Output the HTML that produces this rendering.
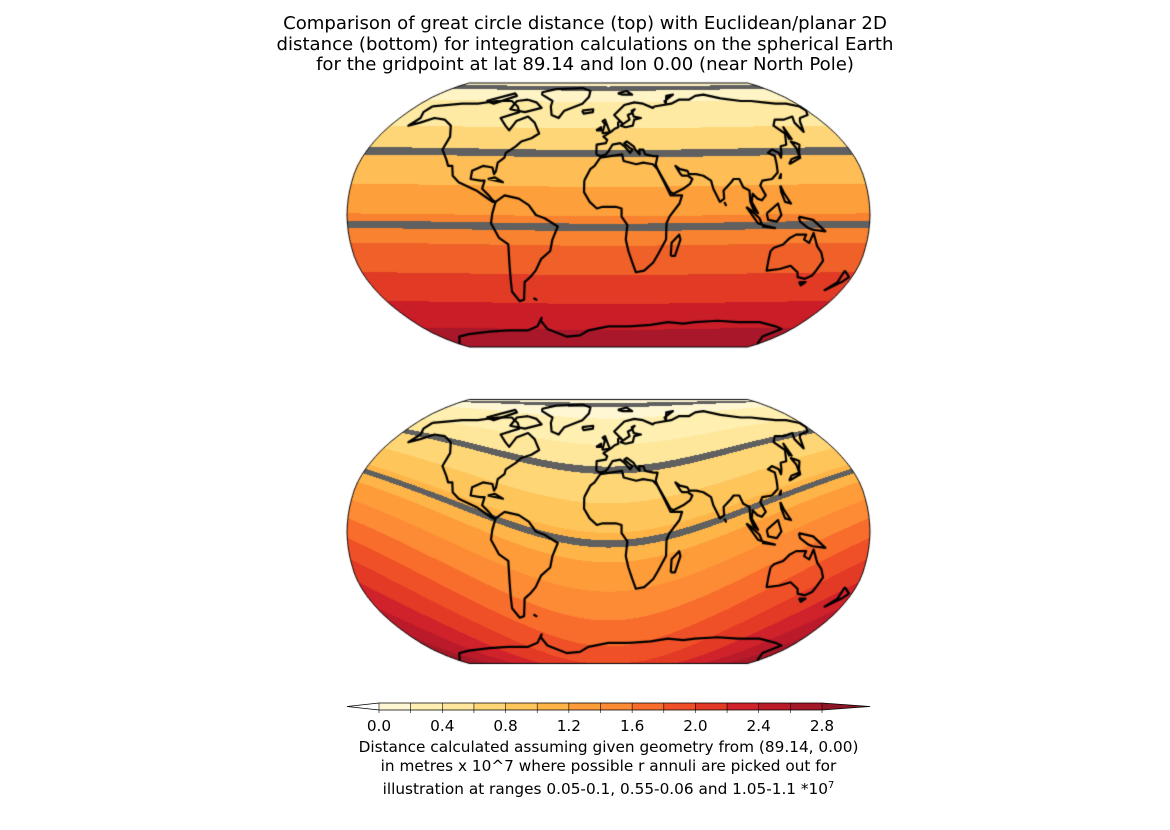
<!DOCTYPE html>
<html><head><meta charset="utf-8"><style>
body{margin:0;background:#fff;width:1170px;height:830px;overflow:hidden;font-family:"DejaVu Sans","Liberation Sans",sans-serif}
#wrap{position:relative;width:1170px;height:830px}
.t{position:absolute;text-align:center;color:#000}
canvas{position:absolute;left:0;top:0}
</style></head><body><div id="wrap">
<div class="t" style="left:0;width:1170px;top:14px;font-size:18.1px;line-height:20.5px">Comparison of great circle distance (top) with Euclidean/planar 2D<br>distance (bottom) for integration calculations on the spherical Earth<br>for the gridpoint at lat 89.14 and lon 0.00 (near North Pole)</div>
<canvas id="c" width="1170" height="830"></canvas>
<svg id="cb" width="1170" height="830" style="position:absolute;left:0;top:0"></svg>
<div class="t" style="left:0;width:1217px;top:738px;font-size:15.3px;line-height:19px">Distance calculated assuming given geometry from (89.14, 0.00)<br>in metres x 10^7 where possible r annuli are picked out for<br>illustration at ranges 0.05-0.1, 0.55-0.06 and 1.05-1.1 *10<sup style="font-size:10px">7</sup></div>
</div>
<script>
const levels=[0,0.2,0.4,0.6,0.8,1.0,1.2,1.4,1.6,1.8,2.0,2.2,2.4,2.6,2.8];
const colors=['#fff7d4','#ffefb0','#fee79a','#fed676','#fec55b','#feb446','#fd9c39','#fd8a34','#f86d2c','#f05027','#e33a26','#d0222a','#bb1a2b','#a51828'];
const levelsTop=[0,0.2,0.4,0.6,0.8,1.0,1.2,1.4,1.6,1.8,2.0];
const colorsTop=['#fff4c6','#feeaa2','#fed678','#febd55','#fd9f3a','#f8822f','#ef6128','#e13b26','#c91d27','#a8182a'];
const overColor='#8e1526', underColor='#ffffff';
const tickLabels=['0.0','0.4','0.8','1.2','1.6','2.0','2.4','2.8'];
const highlight=[[0.05,0.1],[0.55,0.6],[1.05,1.1]];
const pole=[89.14,0.0];
const RY=[0,0.062,0.124,0.186,0.248,0.310,0.372,0.434,0.4958,0.5571,0.6176,0.6769,0.7346,0.7903,0.8435,0.8936,0.9394,0.9761,1.0];
const RX=[1,0.9986,0.9954,0.99,0.9822,0.973,0.96,0.9427,0.9216,0.8962,0.8679,0.835,0.7986,0.7597,0.7186,0.6732,0.6213,0.5722,0.5322];
const cx=608.5,HW=261.5,HH=132;
const panels=[{eq:215,mode:'gc',lv:levelsTop,cl:colorsTop},{eq:531.5,mode:'plane',lv:levels,cl:colors}];
function interp(T,lat){const a=Math.min(Math.abs(lat),90)/5,i=Math.min(Math.floor(a),17),f=a-i;return T[i]+(T[i+1]-T[i])*f;}
function proj(lon,lat,eq){return [cx+HW*interp(RX,lat)*lon/180, eq-Math.sign(lat)*HH*interp(RY,lat)];}
function invY(Y){for(let i=0;i<18;i++){if(Y<=RY[i+1])return 5*(i+(Y-RY[i])/(RY[i+1]-RY[i]));}return 90;}
function dist(lat,lon,mode){
 const r=Math.PI/180;
 if(mode==='gc'){const c=Math.sin(lat*r)*Math.sin(pole[0]*r)+Math.cos(lat*r)*Math.cos(pole[0]*r)*Math.cos((lon-pole[1])*r);return 6.371e6*Math.acos(Math.max(-1,Math.min(1,c)))/1e7;}
 const dx=(lon-pole[1])*Math.cos((lat+pole[0])/2*r),dy=lat-pole[0];
 return Math.sqrt(dx*dx+dy*dy)*111195/1e7;}
function colorFor(d,lv,cl){for(const h of highlight)if(d>=h[0]&&d<=h[1])return '#606060';
 if(d<lv[0])return underColor;
 for(let i=0;i<cl.length;i++)if(d<lv[i+1])return cl[i];return cl[cl.length-1];}
const coasts=[
[[-165,68],[-140,70],[-125,70],[-110,72],[-95,72],[-85,68],[-80,64],[-93,60],[-85,55],[-80,52],[-78,58],[-70,61],[-62,57],[-55,50],[-60,47],[-67,45],[-70,42],[-76,38],[-76,35],[-80,32],[-80,27],[-81,25],[-83,29],[-90,30],[-97,27],[-97,22],[-90,21],[-87,21],[-88,16],[-83,12],[-80,9],[-78,8],[-80,8],[-85,11],[-92,15],[-105,20],[-110,24],[-112,30],[-115,30],[-118,34],[-124,40],[-124,48],[-130,55],[-140,59],[-150,60],[-158,57],[-165,55],[-162,60],[-166,64],[-165,68]],
[[-78,8],[-72,12],[-62,10],[-55,6],[-50,0],[-44,-2],[-35,-7],[-39,-15],[-41,-22],[-48,-27],[-53,-34],[-58,-38],[-63,-41],[-65,-46],[-68,-52],[-72,-53],[-75,-47],[-73,-40],[-71,-30],[-70,-18],[-76,-14],[-81,-5],[-80,1],[-78,8]],
[[-17,21],[-13,28],[-10,30],[-6,35],[10,37],[11,33],[20,31],[25,32],[32,31],[35,28],[39,20],[43,12],[51,12],[49,7],[42,-1],[40,-5],[40,-15],[35,-24],[32,-29],[26,-34],[20,-35],[17,-29],[14,-22],[12,-15],[13,-6],[9,-1],[9,4],[5,5],[-4,5],[-8,4],[-13,8],[-17,14],[-17,21]],
[[-9,37],[-9,43],[-2,44],[-1,46],[-4,48],[2,51],[5,53],[8,54],[8,57],[10,58],[12,56],[10,55],[14,54],[20,55],[22,59],[28,60],[22,61],[21,65],[24,66],[20,63],[17,62],[18,59],[12,56],[5,62],[15,69],[25,71],[33,70],[41,67],[43,68],[60,70],[70,73],[80,73],[90,76],[100,77],[113,74],[130,72],[140,72],[150,71],[160,70],[170,70],[179,68],[179,65],[175,62],[165,60],[162,58],[156,51],[156,57],[160,61],[150,59],[142,59],[136,55],[140,50],[135,43],[130,42],[128,38],[126,35],[126,38],[122,40],[118,38],[122,36],[121,31],[120,26],[115,22],[108,21],[106,18],[109,12],[106,9],[103,10],[100,13],[99,8],[103,1],[100,3],[98,8],[98,15],[94,17],[92,22],[88,22],[86,20],[80,15],[80,10],[77,8],[73,16],[72,21],[67,24],[62,25],[57,25],[56,27],[51,28],[48,30],[51,25],[52,24],[56,24],[59,22],[57,19],[52,16],[45,13],[43,14],[39,21],[35,28],[34,31],[36,36],[33,36],[27,37],[26,40],[23,40],[23,37],[20,40],[19,42],[14,45],[12,44],[16,41],[18,40],[16,38],[12,42],[9,44],[3,43],[0,39],[-2,37],[-6,36],[-9,37]],
[[114,-22],[116,-20],[122,-18],[126,-14],[130,-12],[137,-12],[136,-15],[140,-17],[142,-11],[146,-19],[150,-23],[153,-28],[151,-34],[150,-37],[146,-39],[140,-38],[138,-35],[131,-31],[124,-33],[115,-34],[114,-28],[114,-22]],
[[-60,82],[-30,83],[-20,80],[-20,75],[-25,70],[-40,65],[-43,60],[-50,62],[-54,68],[-55,72],[-70,77],[-72,79],[-60,82]],
[[-179,-85],[-160,-78],[-145,-76],[-120,-74],[-100,-73],[-80,-73],[-68,-70],[-60,-64],[-62,-66],[-60,-72],[-45,-78],[-30,-77],[-20,-73],[0,-70],[20,-70],[40,-69],[55,-67],[70,-68],[80,-67],[100,-66],[120,-67],[140,-67],[160,-70],[170,-72],[165,-78],[179,-85]],
[[-5,50],[-3,56],[-5,58],[-3,59],[0,53],[1,51],[-5,50]],[[-10,52],[-6,54],[-6,52],[-10,52]],
[[130,31],[133,34],[140,36],[141,41],[140,45],[143,44],[145,43],[141,38],[140,35],[135,33],[130,31]],
[[44,-25],[47,-25],[50,-15],[49,-12],[44,-17],[44,-25]],
[[95,5],[103,-5],[106,-6],[104,-2],[98,3],[95,5]],[[106,-6],[115,-8],[106,-7]],[[109,1],[117,7],[119,0],[116,-4],[110,-3],[109,1]],
[[131,-1],[141,-3],[150,-10],[141,-9],[138,-8],[132,-4],[131,-1]],
[[172,-34],[178,-38],[175,-41],[167,-46],[172,-41],[172,-34]],
[[-24,65],[-14,66],[-14,64],[-22,63],[-24,65]],[[120,22],[122,25],[121,22]],[[120,18],[122,13],[126,7],[122,8],[120,14],[120,18]],
[[-85,22],[-74,20],[-80,23],[-85,22]],[[-60,-51],[-58,-52],[-60,-51]],[[80,8],[81,6],[80,8]],[[143,-41],[148,-41],[146,-43],[143,-41]],
[[-80,73],[-70,71],[-62,67],[-75,64],[-90,66],[-90,72],[-80,73]],[[-120,72],[-100,78],[-95,76],[-110,70],[-120,72]],[[55,70],[60,76],[68,77],[55,72],[55,70]],[[10,78],[20,80],[25,77],[15,77],[10,78]],[[140,46],[143,54],[142,46]]
];
const cv=document.getElementById('c'),ctx=cv.getContext('2d');
panels.forEach(p=>{
 for(let y=Math.floor(p.eq-HH);y<=Math.ceil(p.eq+HH);y++){
  const Y=Math.abs(y+0.5-p.eq)/HH;if(Y>1)continue;
  const alat=invY(Y);const lat=(y+0.5<p.eq?1:-1)*alat;const X=interp(RX,lat);
  for(let x=Math.floor(cx-HW-1);x<=cx+HW+1;x++){const lon=(x+0.5-cx)/(HW*X)*180;if(Math.abs(lon)>180)continue;
   ctx.fillStyle=colorFor(dist(lat,lon,p.mode),p.lv,p.cl);ctx.fillRect(x,y,1,1);}
 }
 ctx.beginPath();const pts=[];
 for(let la=90;la>=-90;la-=1)pts.push(proj(180,la,p.eq));
 for(let la=-90;la<=90;la+=1)pts.push(proj(-180,la,p.eq));
 pts.forEach((q,i)=>i?ctx.lineTo(q[0],q[1]):ctx.moveTo(q[0],q[1]));ctx.closePath();
 ctx.strokeStyle='#000';ctx.lineWidth=1;ctx.stroke();
 coasts.forEach(c=>{ctx.beginPath();c.forEach((q,i)=>{const r=proj(q[0],q[1],p.eq);i?ctx.lineTo(r[0],r[1]):ctx.moveTo(r[0],r[1]);});ctx.lineWidth=2.2;ctx.lineJoin='round';ctx.stroke();});
});
const svg=document.getElementById('cb'),NS='http://www.w3.org/2000/svg';
const x0=379,x1=822,cy0=703,cy1=710;
const sx=v=>x0+(v-levels[0])/(levels[levels.length-1]-levels[0])*(x1-x0);
function mk(t,a){const e=document.createElementNS(NS,t);for(const k in a)e.setAttribute(k,a[k]);svg.appendChild(e);return e;}
let e=mk('polygon',{points:`${x0},${cy0} 347,${(cy0+cy1)/2} ${x0},${cy1}`,fill:underColor,stroke:'none'});


e=mk('polygon',{points:`${x1},${cy0} 870,${(cy0+cy1)/2} ${x1},${cy1}`,fill:overColor,stroke:'none'});


colors.forEach((c,i)=>{const r=mk('rect',{x:sx(levels[i]),y:cy0,width:sx(levels[i+1])-sx(levels[i])+0.5,height:cy1-cy0,fill:c});

});
mk('polygon',{points:`347,${(cy0+cy1)/2} ${x0},${cy0} ${x1},${cy0} 870,${(cy0+cy1)/2} ${x1},${cy1} ${x0},${cy1}`,fill:'none',stroke:'#000','stroke-width':0.8});
levels.forEach(v=>{const l=mk('line',{x1:sx(v),x2:sx(v),y1:cy0,y2:cy1+3,stroke:'#000','stroke-width':0.6});

});
tickLabels.forEach(s=>{const t=mk('text',{x:sx(parseFloat(s)),y:731,'text-anchor':'middle','font-size':'15.3','font-family':'DejaVu Sans, Liberation Sans, sans-serif'});t.textContent=s;

});
</script>
</body></html>
